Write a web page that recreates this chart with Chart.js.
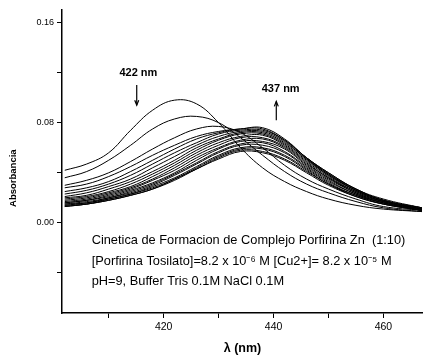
<!DOCTYPE html>
<html>
<head>
<meta charset="utf-8">
<script src="https://cdn.jsdelivr.net/npm/chart.js@4.4.1/dist/chart.umd.min.js"></script>
<style>
    html, body { margin: 0; padding: 0; background: #fff; }
    #wrap { position: relative; width: 423px; height: 358px; }
</style>
</head>
<body>
<div id="wrap"><canvas id="kineticsChart"></canvas></div>
<script>
// Zn porphyrin complex formation kinetics - UV-vis spectra

const WAVELENGTHS = [402, 406, 410, 414, 418, 422, 426, 430, 434, 438, 442, 446, 450, 455, 460, 467];

// first three scans (Soret band at 422 nm falling)
const spectrum01 = [0.042, 0.047, 0.056, 0.074, 0.090, 0.098, 0.095, 0.080, 0.060, 0.044, 0.033, 0.025, 0.019, 0.014, 0.011, 0.009];
const spectrum02 = [0.036, 0.041, 0.050, 0.062, 0.075, 0.083, 0.085, 0.080, 0.068, 0.054, 0.041, 0.031, 0.024, 0.017, 0.012, 0.009];
const spectrum03 = [0.030, 0.034, 0.040, 0.049, 0.059, 0.068, 0.075, 0.077, 0.072, 0.060, 0.046, 0.035, 0.027, 0.019, 0.013, 0.010];
// later scans (band at 437 nm)
const spectrum04 = [0.028, 0.031, 0.037, 0.045, 0.054, 0.062, 0.069, 0.073, 0.075, 0.076, 0.067, 0.052, 0.040, 0.027, 0.019, 0.012];
const spectrum05 = [0.025, 0.028, 0.033, 0.041, 0.050, 0.059, 0.067, 0.072, 0.075, 0.075, 0.066, 0.052, 0.040, 0.027, 0.018, 0.012];
const spectrum06 = [0.023, 0.026, 0.031, 0.038, 0.047, 0.056, 0.064, 0.071, 0.074, 0.074, 0.066, 0.052, 0.039, 0.027, 0.018, 0.012];
const spectrum07 = [0.021, 0.024, 0.029, 0.035, 0.044, 0.053, 0.062, 0.069, 0.073, 0.073, 0.065, 0.051, 0.039, 0.026, 0.018, 0.011];
const spectrum08 = [0.020, 0.022, 0.027, 0.033, 0.041, 0.050, 0.060, 0.067, 0.072, 0.072, 0.064, 0.051, 0.038, 0.026, 0.018, 0.011];
const spectrum09 = [0.019, 0.021, 0.025, 0.031, 0.039, 0.048, 0.058, 0.066, 0.071, 0.071, 0.063, 0.050, 0.038, 0.026, 0.017, 0.011];
const spectrum10 = [0.018, 0.020, 0.024, 0.029, 0.037, 0.046, 0.056, 0.064, 0.069, 0.070, 0.062, 0.049, 0.037, 0.025, 0.017, 0.011];
const spectrum11 = [0.017, 0.019, 0.023, 0.028, 0.035, 0.044, 0.054, 0.062, 0.068, 0.068, 0.061, 0.048, 0.036, 0.025, 0.017, 0.011];
const spectrum12 = [0.016, 0.018, 0.022, 0.027, 0.034, 0.042, 0.052, 0.060, 0.066, 0.067, 0.060, 0.047, 0.036, 0.024, 0.017, 0.011];
const spectrum13 = [0.016, 0.018, 0.021, 0.026, 0.032, 0.040, 0.050, 0.059, 0.065, 0.065, 0.059, 0.046, 0.035, 0.024, 0.016, 0.011];
const spectrum14 = [0.015, 0.017, 0.020, 0.025, 0.031, 0.039, 0.048, 0.057, 0.063, 0.064, 0.057, 0.045, 0.034, 0.023, 0.016, 0.010];
const spectrum15 = [0.015, 0.016, 0.020, 0.024, 0.030, 0.038, 0.047, 0.056, 0.062, 0.062, 0.056, 0.044, 0.033, 0.023, 0.016, 0.010];
const spectrum16 = [0.014, 0.016, 0.019, 0.023, 0.029, 0.036, 0.045, 0.054, 0.060, 0.060, 0.054, 0.043, 0.032, 0.022, 0.016, 0.010];
const spectrum17 = [0.014, 0.015, 0.019, 0.023, 0.028, 0.035, 0.044, 0.053, 0.059, 0.059, 0.053, 0.042, 0.031, 0.022, 0.015, 0.010];
const spectrum18 = [0.013, 0.015, 0.018, 0.022, 0.027, 0.035, 0.043, 0.052, 0.058, 0.057, 0.051, 0.041, 0.031, 0.021, 0.015, 0.010];
const spectrum19 = [0.013, 0.015, 0.018, 0.022, 0.027, 0.034, 0.043, 0.051, 0.057, 0.056, 0.050, 0.040, 0.030, 0.021, 0.015, 0.010];

const X_TICK_LABELS = [420, 440, 460];
const Y_TICK_LABELS = [0.00, 0.08, 0.16];

const PEAK_NOTES = [
    { text: '422 nm', x: 415.4, y: 0.120, arrowX: 415.1, from: 0.110, to: 0.094 },
    { text: '437 nm', x: 441.3, y: 0.107, arrowX: 440.5, from: 0.082, to: 0.097 },
];

const CAPTION_LINES = [
    'Cinetica de Formacion de Complejo Porfirina Zn  (1:10)',
    '[Porfirina Tosilato]=8.2 x 10\u207B\u2076 M [Cu2+]= 8.2 x 10\u207B\u2075 M',
    'pH=9, Buffer Tris 0.1M NaCl 0.1M',
];

const SPECTRA = [
    spectrum01, spectrum02, spectrum03, spectrum04, spectrum05, spectrum06, spectrum07,
    spectrum08, spectrum09, spectrum10, spectrum11, spectrum12, spectrum13, spectrum14,
    spectrum15, spectrum16, spectrum17, spectrum18, spectrum19,
];

(function () {
    const FONT = '"Liberation Sans", Arial, sans-serif';

    function isLabelled(list, v) {
        return list.some(l => Math.abs(l - v) < 1e-6);
    }

    // text + arrows on top of the plot
    const notesPlugin = {
        id: 'notes',
        afterDraw(chart) {
            const { ctx, scales: { x, y }, chartArea } = chart;
            ctx.save();
            ctx.fillStyle = '#000';
            ctx.strokeStyle = '#000';

            ctx.font = 'bold 11px ' + FONT;
            ctx.textAlign = 'center';
            ctx.textBaseline = 'middle';
            for (const n of PEAK_NOTES) {
                ctx.fillText(n.text, x.getPixelForValue(n.x), y.getPixelForValue(n.y));
                const ax = x.getPixelForValue(n.arrowX);
                const y1 = y.getPixelForValue(n.from);
                const y2 = y.getPixelForValue(n.to);
                const dir = y2 > y1 ? 1 : -1;
                ctx.lineWidth = 1.2;
                ctx.beginPath();
                ctx.moveTo(ax, y1);
                ctx.lineTo(ax, y2);
                ctx.stroke();
                ctx.beginPath();
                ctx.moveTo(ax - 2, y2 - dir * 5);
                ctx.lineTo(ax, y2);
                ctx.lineTo(ax + 2, y2 - dir * 5);
                ctx.stroke();
            }

            // caption block
            ctx.font = '12.8px ' + FONT;
            ctx.textAlign = 'left';
            const left = x.getPixelForValue(406.9);
            CAPTION_LINES.forEach((line, i) => {
                ctx.fillText(line, left, y.getPixelForValue(-0.0144 - i * 0.0164));
            });

            // y axis title
            ctx.font = 'bold 9.5px ' + FONT;
            ctx.textAlign = 'center';
            ctx.translate(13, chartArea.top + (chartArea.bottom - chartArea.top) * 0.555);
            ctx.rotate(-Math.PI / 2);
            ctx.fillText('Absorbancia', 0, 0);
            ctx.restore();
        }
    };

    function renderChart() {
        const canvas = document.getElementById('kineticsChart');
        const ctx = canvas.getContext('2d');

        const datasets = SPECTRA.map((s, i) => ({
            label: 'scan ' + (i + 1),
            data: WAVELENGTHS.map((w, j) => ({ x: w, y: s[j] })),
            borderColor: '#000',
            backgroundColor: 'transparent',
            borderWidth: 1,
            tension: 0.4,
            pointRadius: 0,
            fill: false,
        }));

        new Chart(ctx, {
            type: 'line',
            data: { datasets },
            options: {
                responsive: true,
                maintainAspectRatio: false,
                animation: false,
                layout: { padding: { top: 10, right: 0, bottom: 0, left: 0 } },
                scales: {
                    x: {
                        type: 'linear',
                        min: 401.5,
                        max: 467.2,
                        afterFit: s => { s.height = 45; },
                        grid: { drawOnChartArea: false, tickLength: 5, tickColor: '#000', tickWidth: 1 },
                        border: { color: '#000', width: 1.5 },
                        ticks: {
                            stepSize: 10,
                            includeBounds: false,
                            autoSkip: false,
                            maxRotation: 0,
                            padding: 3,
                            color: '#000',
                            font: { family: FONT, size: 10.5 },
                            callback: v => isLabelled(X_TICK_LABELS, v) ? String(v) : ''
                        },
                        title: {
                            display: true,
                            text: '\u03BB (nm)',
                            color: '#000',
                            font: { family: FONT, size: 12.5, weight: 'bold' },
                            padding: { top: 0, bottom: 2 }
                        }
                    },
                    y: {
                        min: -0.072,
                        max: 0.17,
                        afterFit: s => { s.width = 62; },
                        grid: { drawOnChartArea: false, tickLength: 5, tickColor: '#000', tickWidth: 1 },
                        border: { color: '#000', width: 1.5 },
                        ticks: {
                            stepSize: 0.04,
                            includeBounds: false,
                            autoSkip: false,
                            padding: 3,
                            color: '#000',
                            font: { family: FONT, size: 9 },
                            callback: v => isLabelled(Y_TICK_LABELS, v) ? v.toFixed(2) : ''
                        }
                    }
                },
                plugins: {
                    legend: { display: false },
                    tooltip: { enabled: false }
                }
            },
            plugins: [notesPlugin]
        });
    }

    document.addEventListener('DOMContentLoaded', renderChart);
})();
</script>
</body>
</html>
